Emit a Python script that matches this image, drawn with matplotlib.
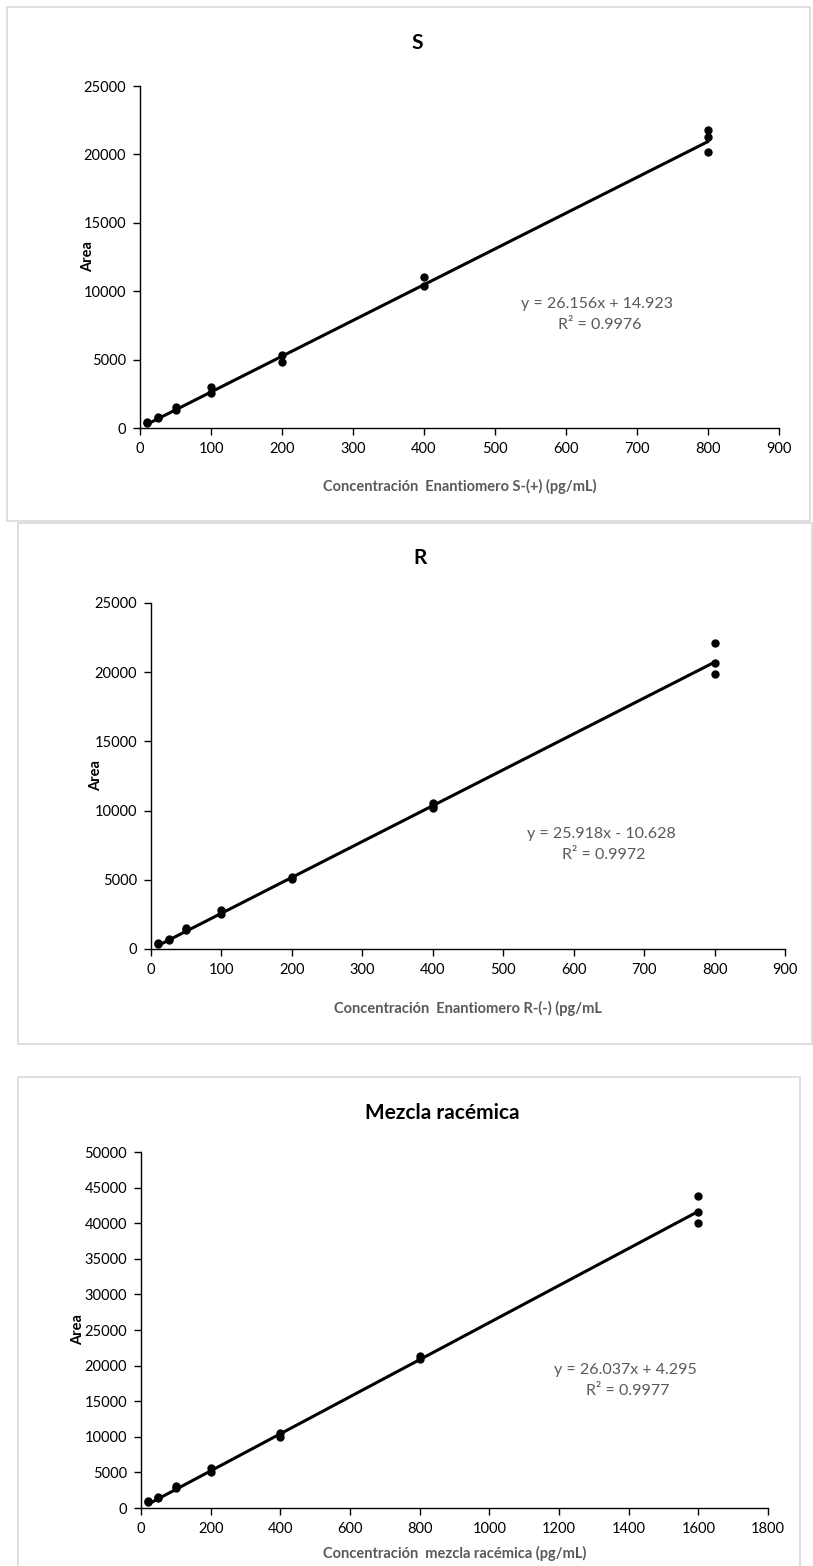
import matplotlib
matplotlib.use("Agg")
import matplotlib.pyplot as plt
from matplotlib.patches import Rectangle

plt.rcParams['font.family'] = ['Lato', 'DejaVu Sans']

W, H = 813, 1566

# ---------------- data ----------------
s_x = [10, 10, 25, 25, 50, 50, 100, 100, 200, 200, 400, 400, 800, 800, 800]
s_y = [430, 380, 800, 700, 1550, 1300, 2980, 2550, 5350, 4850, 11050, 10350, 21750, 21250, 20150]
s_slope, s_intercept = 26.156, 14.923
s_eq = ["y = 26.156x + 14.923", "R² = 0.9976"]

r_x = [10, 10, 25, 25, 50, 50, 100, 100, 200, 200, 400, 400, 400, 800, 800, 800]
r_y = [450, 380, 750, 650, 1550, 1400, 2800, 2500, 5200, 5050, 10550, 10300, 10200, 22100, 20650, 19900]
r_slope, r_intercept = 25.918, -10.628
r_eq = ["y = 25.918x - 10.628", "R² = 0.9972"]

m_x = [20, 20, 50, 50, 100, 100, 200, 200, 400, 400, 800, 800, 1600, 1600, 1600]
m_y = [950, 850, 1500, 1400, 3100, 2800, 5600, 5100, 10600, 10000, 21400, 20900, 43800, 41600, 40000]
m_slope, m_intercept = 26.037, 4.295
m_eq = ["y = 26.037x + 4.295", "R² = 0.9977"]

titles = ["S", "R", "Mezcla racémica"]
xlabels = ["Concentración  Enantiomero S-(+) (pg/mL)",
           "Concentración  Enantiomero R-(-) (pg/mL",
           "Concentración  mezcla racémica (pg/mL)"]
ylabel = "Area"

s_xticks = list(range(0, 1000, 100))
s_yticks = list(range(0, 30000, 5000))
m_xticks = list(range(0, 2000, 200))
m_yticks = list(range(0, 55000, 5000))

# ---------------- layout (pixels) ----------------
fig = plt.figure(figsize=(W / 100, H / 100), dpi=100)


def fx(x):
    return x / W


def fy(y):
    return 1 - y / H


def frame(x0, y0, x1, y1):
    fig.patches.append(Rectangle((fx(x0), fy(y1)), fx(x1) - fx(x0), fy(y0) - fy(y1),
                                 transform=fig.transFigure, fill=False,
                                 edgecolor='#d9d9d9', linewidth=1.2, zorder=0))


frame(7, 7, 810, 521)
frame(18, 523, 812, 1044)
frame(18, 1077, 800, 1580)

panels = [
    dict(x=s_x, y=s_y, k=s_slope, b=s_intercept, eq=s_eq, xt=s_xticks, yt=s_yticks,
         box=(140, 779, 86, 428), title_y=43, title_x=417, ylab_x=88,
         xlab_y=486, eq_xy=(597, 304)),
    dict(x=r_x, y=r_y, k=r_slope, b=r_intercept, eq=r_eq, xt=s_xticks, yt=s_yticks,
         box=(151, 785, 603, 949), title_y=558, title_x=420, ylab_x=96,
         xlab_y=1008, eq_xy=(601, 834)),
    dict(x=m_x, y=m_y, k=m_slope, b=m_intercept, eq=m_eq, xt=m_xticks, yt=m_yticks,
         box=(141, 768, 1152, 1508), title_y=1113, title_x=442, ylab_x=78,
         xlab_y=1553, eq_xy=(625, 1370)),
]

for i, p in enumerate(panels):
    x0, x1, yt, yb = p['box']
    ax = fig.add_axes([fx(x0), fy(yb), fx(x1) - fx(x0), fy(yt) - fy(yb)])
    ax.set_xlim(p['xt'][0], p['xt'][-1])
    ax.set_ylim(p['yt'][0], p['yt'][-1])
    ax.set_xticks(p['xt'])
    ax.set_yticks(p['yt'])
    ax.tick_params(labelsize=10.5, colors='black', direction='out', length=5, width=1, pad=5)
    for sp in ['top', 'right']:
        ax.spines[sp].set_visible(False)
    for sp in ['left', 'bottom']:
        ax.spines[sp].set_linewidth(1)
        ax.spines[sp].set_color('black')
    ax.patch.set_alpha(0)

    xmin, xmax = min(p['x']), max(p['x'])
    ax.plot([xmin, xmax], [p['k'] * xmin + p['b'], p['k'] * xmax + p['b']],
            color='black', linewidth=2.2, solid_capstyle='round', zorder=3)
    ax.plot(p['x'], p['y'], 'o', color='black', markersize=5, zorder=4, clip_on=False)

    fig.text(fx(p['title_x']), fy(p['title_y']), titles[i], ha='center', va='center',
             fontsize=15, fontweight='bold', color='black')
    fig.text(fx(p['ylab_x']), fy((yt + yb) / 2), ylabel, ha='center', va='center',
             rotation=90, fontsize=10.5, fontweight='bold', color='black')
    fig.text(fx((x0 + x1) / 2), fy(p['xlab_y']), xlabels[i], ha='center', va='center',
             fontsize=10.5, fontweight='bold', color='#595959')
    ex, ey = p['eq_xy']
    fig.text(fx(ex), fy(ey), p['eq'][0], ha='center', va='center', fontsize=11.5, color='#595959')
    fig.text(fx(ex + 3), fy(ey + 21), p['eq'][1], ha='center', va='center', fontsize=11.5, color='#595959')

fig.savefig("out.png", dpi=100)
